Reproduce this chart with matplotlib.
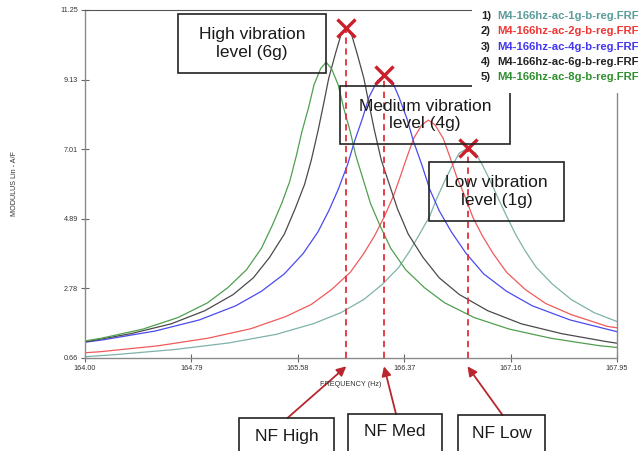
import numpy as np
import matplotlib.pyplot as plt
from matplotlib.patches import Rectangle

plt.rcParams['font.family'] = ['Liberation Sans', 'DejaVu Sans']

# FRF modulus curves, one per excitation level (frequency in Hz, modulus A/F)
freq_1g = [164.00, 164.22, 164.67, 165.07, 165.42, 165.70, 165.90, 166.07, 166.21,
           166.33, 166.41, 166.48, 166.56, 166.61, 166.67, 166.73, 166.78, 166.84,
           166.90, 166.95, 167.01, 167.07, 167.13, 167.20, 167.27, 167.35, 167.47,
           167.61, 167.78, 167.95]
amp_1g = [0.70, 0.76, 0.92, 1.12, 1.38, 1.71, 2.04, 2.44, 2.91,
          3.42, 3.91, 4.40, 4.98, 5.50, 6.04, 6.54, 6.90, 7.04,
          6.90, 6.54, 6.04, 5.50, 4.98, 4.40, 3.91, 3.42, 2.91,
          2.44, 2.04, 1.77]

freq_2g = [164.00, 164.11, 164.54, 164.91, 165.23, 165.49, 165.68, 165.83, 165.97,
           166.07, 166.15, 166.22, 166.29, 166.34, 166.39, 166.44, 166.50, 166.55,
           166.60, 166.66, 166.71, 166.76, 166.82, 166.88, 166.95, 167.03, 167.13,
           167.27, 167.42, 167.61, 167.88, 167.95]
amp_2g = [0.82, 0.85, 1.03, 1.26, 1.55, 1.92, 2.29, 2.74, 3.27,
          3.84, 4.38, 4.94, 5.59, 6.17, 6.77, 7.34, 7.75, 7.90,
          7.75, 7.34, 6.77, 6.17, 5.59, 4.94, 4.38, 3.84, 3.27,
          2.74, 2.32, 1.98, 1.62, 1.58]

freq_4g = [164.00, 164.13, 164.52, 164.85, 165.12, 165.31, 165.48, 165.62, 165.73,
           165.81, 165.88, 165.95, 166.00, 166.06, 166.11, 166.17, 166.22,
           166.28, 166.33, 166.39, 166.44, 166.50, 166.56, 166.63, 166.72, 166.83,
           166.96, 167.13, 167.32, 167.60, 167.95]
amp_4g = [1.14, 1.21, 1.48, 1.82, 2.25, 2.69, 3.22, 3.84, 4.50,
          5.14, 5.79, 6.55, 7.24, 7.95, 8.61, 9.09, 9.27,
          9.09, 8.61, 7.95, 7.24, 6.55, 5.79, 5.14, 4.50, 3.84,
          3.22, 2.69, 2.25, 1.82, 1.46]

freq_6g = [164.00, 164.34, 164.64, 164.89, 165.10, 165.25, 165.37, 165.48, 165.56,
           165.63, 165.68, 165.73, 165.77, 165.81, 165.86, 165.90, 165.94,
           165.98, 166.02, 166.07, 166.11, 166.15, 166.20, 166.26, 166.32, 166.40,
           166.51, 166.63, 166.78, 166.99, 167.24, 167.54, 167.87, 167.95]
amp_6g = [1.15, 1.40, 1.70, 2.10, 2.59, 3.10, 3.72, 4.43, 5.20,
          5.94, 6.68, 7.57, 8.36, 9.18, 9.93, 10.49, 10.70,
          10.49, 9.93, 9.18, 8.36, 7.57, 6.68, 5.94, 5.20, 4.43,
          3.72, 3.10, 2.59, 2.10, 1.70, 1.40, 1.16, 1.11]

freq_8g = [164.00, 164.12, 164.43, 164.69, 164.91, 165.06, 165.20, 165.31, 165.39,
           165.46, 165.52, 165.57, 165.61, 165.66, 165.70, 165.75, 165.79,
           165.83, 165.88, 165.92, 165.97, 166.01, 166.07, 166.12, 166.19, 166.27,
           166.38, 166.52, 166.67, 166.89, 167.15, 167.46, 167.81, 167.95]
amp_8g = [1.18, 1.26, 1.54, 1.89, 2.34, 2.80, 3.35, 4.00, 4.69,
          5.36, 6.03, 6.83, 7.54, 8.28, 8.97, 9.47, 9.66,
          9.47, 8.97, 8.28, 7.54, 6.83, 6.03, 5.36, 4.69, 4.00,
          3.35, 2.80, 2.34, 1.89, 1.54, 1.26, 1.04, 0.98]

curve_names = ['M4-166hz-ac-1g-b-reg.FRF', 'M4-166hz-ac-2g-b-reg.FRF',
               'M4-166hz-ac-4g-b-reg.FRF', 'M4-166hz-ac-6g-b-reg.FRF',
               'M4-166hz-ac-8g-b-reg.FRF']

# natural frequency picked at each vibration level: high (6g), medium (4g), low (1g)
nf_freq = [165.94, 166.22, 166.84]
nf_amp = [10.70, 9.27, 7.04]

x_ticks = [164.00, 164.79, 165.58, 166.37, 167.16, 167.95]
y_ticks = [0.66, 2.78, 4.89, 7.01, 9.13, 11.25]

W, H = 644, 451


def fx(px):
    return px / W


def fy(py):
    return 1 - py / H


fig = plt.figure(figsize=(W / 100, H / 100), dpi=100)
ax = fig.add_axes([fx(85), fy(358), (617 - 85) / W, (358 - 10) / H])

curve_colors = ['#7fb2aa', '#f05a5a', '#4a4af0', '#4a4a4a', '#4f9f4f']
text_colors = ['#5a9c9a', '#f03535', '#4236ee', '#222222', '#2f8f2f']
series = [(freq_1g, amp_1g), (freq_2g, amp_2g), (freq_4g, amp_4g),
          (freq_6g, amp_6g), (freq_8g, amp_8g)]
for (f, a), c in zip(series, curve_colors):
    ax.plot(f, a, color=c, lw=0.9)

ax.vlines(nf_freq, y_ticks[0], nf_amp, colors='#e0303c', lw=1.3,
          linestyles=(0, (3.5, 2.5)), zorder=3)
ax.plot(nf_freq, nf_amp, 'x', ms=13, mew=2.4, color='#cc1f2a', zorder=4)

ax.set_xlim(x_ticks[0], x_ticks[-1])
ax.set_ylim(y_ticks[0], y_ticks[-1])
ax.set_xticks(x_ticks)
ax.set_xticklabels(['%.2f' % t for t in x_ticks])
ax.set_yticks(y_ticks)
ax.set_yticklabels(['%.2f' % t for t in y_ticks])
ax.tick_params(direction='inout', length=6, width=0.8, color='#666666',
               labelsize=5.2, labelcolor='#333333', pad=2)
for side in ['left', 'bottom', 'right']:
    ax.spines[side].set_color('#8a8a8a')
    ax.spines[side].set_linewidth(1.0)
ax.spines['top'].set_color('#555555')

fig.text(fx(15), fy(184), 'MODULUS Lin - A/F', rotation=90, fontsize=5.2,
         color='#333333', ha='center', va='center')
fig.text(fx(351), fy(385), 'FREQUENCY (Hz)', fontsize=5.2, color='#333333',
         ha='center', va='center')


def text_box(x0, y0, x1, y1, label, z=6):
    fig.add_artist(Rectangle((fx(x0), fy(y1)), (x1 - x0) / W, (y1 - y0) / H,
                             transform=fig.transFigure, fill=False,
                             edgecolor='#222222', lw=1.2, zorder=z))
    fig.text(fx((x0 + x1) / 2), fy((y0 + y1) / 2), label, fontsize=12.5,
             color='#1a1a1a', ha='center', va='center', zorder=z)


text_box(178, 14, 326, 73, 'High vibration\nlevel (6g)')
text_box(340, 86, 510, 144, 'Medium vibration\nlevel (4g)', z=4)
text_box(429, 162, 564, 221, 'Low vibration\nlevel (1g)')

# legend block sits on a white patch over the plot frame
fig.add_artist(Rectangle((fx(472), fy(93)), 1 - fx(472), 93 / H,
                         transform=fig.transFigure, facecolor='white',
                         edgecolor='none', zorder=5))
for i, (name, c) in enumerate(zip(curve_names, text_colors)):
    y = 16 + i * 15.3
    fig.text(fx(481), fy(y), '%d)' % (i + 1), fontsize=8.1, fontweight='bold',
             color='#222222', ha='left', va='center', zorder=6)
    fig.text(fx(497), fy(y), name, fontsize=8.1, fontweight='bold',
             color=c, ha='left', va='center', zorder=6)

# NF callout boxes under the axis with arrows up to the dashed lines
nf_labels = ['NF High', 'NF Med', 'NF Low']
nf_boxes = [(239, 418, 334), (348, 414, 442), (458, 415, 545)]
for f, lab, (x0, top, x1) in zip(nf_freq, nf_labels, nf_boxes):
    fig.add_artist(Rectangle((fx(x0), fy(470)), (x1 - x0) / W, (470 - top) / H,
                             transform=fig.transFigure, fill=False,
                             edgecolor='#222222', lw=1.2, zorder=6))
    fig.text(fx((x0 + x1) / 2), fy(top + 18), lab, fontsize=12.5,
             color='#1a1a1a', ha='center', va='center', zorder=6)
    ax.annotate('', xy=(f, -0.024), xycoords=('data', 'axes fraction'),
                xytext=(fx((x0 + x1) / 2 + 1), fy(top)),
                textcoords='figure fraction', annotation_clip=False,
                arrowprops=dict(arrowstyle='-|>', color='#b8262e', lw=1.3,
                                mutation_scale=14, shrinkA=0, shrinkB=0))

plt.savefig('out.png', dpi=100)
